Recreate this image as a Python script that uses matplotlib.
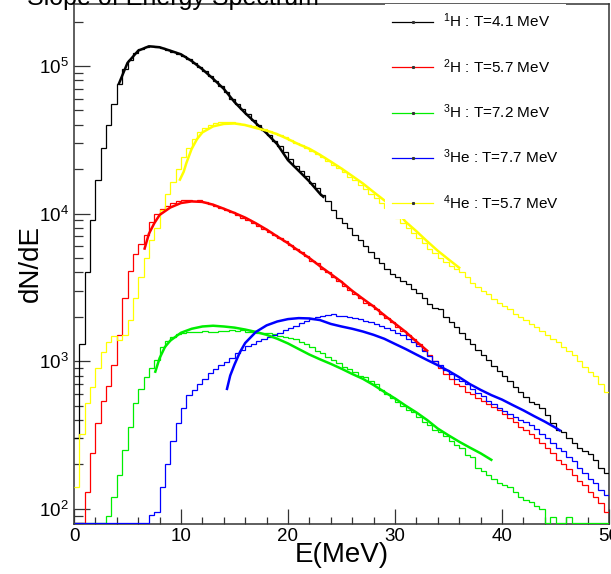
import numpy as np
import matplotlib.pyplot as plt
from matplotlib.ticker import MultipleLocator
from matplotlib.lines import Line2D

plt.rcParams['font.family'] = ['Liberation Sans', 'DejaVu Sans']
plt.rcParams['mathtext.fontset'] = 'custom'
plt.rcParams['mathtext.rm'] = 'Liberation Sans'
plt.rcParams['mathtext.it'] = 'Liberation Sans:italic'
plt.rcParams['mathtext.bf'] = 'Liberation Sans:bold'

# histogram binning: 0.5 MeV bins from 0 to 50 MeV
bin_edges = np.linspace(0, 50, 101)

# dN/dE histograms (one value per bin)
h1_counts = [300, 1300, 4000, 9000, 17000, 28000, 40000, 55000, 75000, 95000,
             110000, 122000, 130000, 135000, 137000, 135000, 132000, 129000, 124000, 120000,
             117000, 111000, 105000, 98000, 92000, 85000, 79000, 73000, 67000, 60000,
             55000, 51000, 47000, 43000, 40000, 37000, 34000, 31000, 28500, 26000,
             23500, 21000, 19500, 18000, 16200, 14800, 13300, 12200, 10500, 9400,
             8700, 8000, 7200, 6600, 6000, 5500, 5000, 4600, 4200, 3900,
             3700, 3500, 3350, 3100, 2900, 2700, 2450, 2300, 2250, 2000,
             1850, 1700, 1550, 1420, 1300, 1200, 1100, 1020, 930, 860,
             800, 740, 670, 620, 570, 530, 510, 480, 430, 380,
             340, 330, 300, 280, 260, 245, 235, 215, 190, 175]

h2_counts = [0, 0, 130, 240, 380, 540, 680, 950, 1500, 2700,
             4100, 5300, 6200, 7200, 8800, 9900, 10700, 11300, 11800, 12100,
             12300, 12400, 12200, 12300, 12000, 11600, 11300, 10900, 10500, 10200,
             9800, 9400, 9100, 8600, 8300, 7900, 7500, 7200, 6800, 6500,
             6100, 5800, 5500, 5200, 4800, 4600, 4200, 4000, 3750, 3500,
             3250, 3050, 2850, 2700, 2500, 2400, 2250, 2100, 1950, 1850,
             1700, 1600, 1500, 1420, 1300, 1200, 1100, 1000, 900, 820,
             760, 700, 680, 620, 600, 560, 540, 510, 490, 470,
             440, 410, 390, 360, 340, 320, 300, 280, 260, 240,
             215, 200, 185, 170, 155, 145, 130, 120, 110, 95]

h3_counts = [0, 0, 0, 0, 0, 0, 90, 120, 170, 250,
             360, 520, 650, 780, 900, 1020, 1250, 1380, 1460, 1520,
             1560, 1570, 1590, 1580, 1600, 1570, 1590, 1610, 1600, 1630,
             1610, 1620, 1590, 1580, 1560, 1550, 1560, 1520, 1490, 1470,
             1440, 1420, 1360, 1300, 1240, 1180, 1130, 1070, 1020, 970,
             920, 880, 850, 800, 780, 740, 700, 640, 600, 560,
             530, 500, 470, 450, 420, 390, 370, 340, 330, 310,
             290, 270, 260, 230, 225, 190, 180, 170, 160, 150,
             145, 140, 130, 120, 115, 112, 105, 100, 0, 88,
             0, 0, 88, 0, 0, 0, 0, 0, 0, 0]

he3_counts = [0, 0, 0, 0, 0, 0, 0, 0, 0, 0,
              0, 0, 0, 0, 91, 96, 140, 200, 290, 380,
              480, 590, 640, 700, 760, 830, 880, 940, 990, 1060,
              1130, 1190, 1260, 1310, 1370, 1420, 1470, 1510, 1560, 1620,
              1680, 1740, 1810, 1860, 1920, 1980, 2030, 2060, 2080, 2040,
              2020, 2000, 1960, 1920, 1880, 1850, 1800, 1740, 1690, 1630,
              1560, 1500, 1420, 1340, 1260, 1180, 1090, 1010, 940, 870,
              820, 760, 740, 700, 650, 610, 580, 540, 510, 480,
              460, 440, 420, 400, 390, 370, 350, 320, 300, 280,
              260, 245, 225, 210, 190, 175, 160, 150, 135, 125]

he4_counts = [140, 320, 520, 670, 900, 1150, 1350, 1480, 1400, 1500,
              1900, 2700, 3700, 5000, 6600, 8000, 10600, 13500, 16500, 20000,
              24000, 28000, 32000, 35500, 38000, 40000, 41000, 42000, 42000, 41800,
              41200, 40500, 40000, 39000, 38200, 37200, 36200, 35200, 34000, 32800,
              31500, 30200, 29000, 27800, 26500, 25300, 24000, 22800, 21500, 20300,
              19000, 17800, 16800, 15600, 14600, 13600, 12700, 11800, 10900, 10100,
              9300, 8700, 8000, 7400, 6800, 6300, 5800, 5400, 5000, 4700,
              4400, 4200, 4000, 3700, 3400, 3200, 3000, 2850, 2650, 2500,
              2350, 2250, 2100, 2000, 1900, 1800, 1700, 1600, 1500, 1420,
              1350, 1250, 1180, 1100, 1000, 920, 850, 800, 700, 620]

# fitted slope curves (E in MeV, dN/dE)
h1_fit_e = [4.2, 5, 6, 7, 8, 9, 10, 11, 12, 13, 14, 15, 16, 17, 18, 19, 20, 21, 22, 23, 23.3]
h1_fit_v = [76000, 105000, 127000, 136000, 134000, 127000, 120000, 108000, 95000, 82000,
            70000, 57000, 48000, 41000, 35000, 29500, 23000, 19500, 16500, 13600, 13000]

h2_fit_e = [6.6, 7, 7.5, 8, 9, 10, 11, 12, 13, 14, 15, 16, 17, 18, 19, 20,
            21, 22, 23, 24, 25, 26, 27, 28, 29, 30, 31, 32, 33]
h2_fit_v = [5800, 7300, 8600, 9800, 11000, 11800, 12100, 12000, 11500, 10800, 10100, 9400, 8600, 7800, 7000, 6300,
            5600, 5000, 4400, 3900, 3450, 3000, 2650, 2350, 2050, 1800, 1580, 1360, 1180]

h3_fit_e = [7.6, 8, 8.5, 9, 10, 11, 12, 13, 14, 15, 16, 17, 18, 19, 20, 21, 22, 23,
            24, 25, 26, 27, 28, 29, 30, 31, 32, 33, 34, 35, 36, 37, 38, 39]
h3_fit_v = [850, 1050, 1250, 1380, 1560, 1660, 1720, 1740, 1720, 1690, 1640, 1580, 1510, 1420, 1320, 1210, 1110, 1030,
            960, 890, 820, 760, 690, 620, 560, 500, 450, 400, 350, 315, 285, 260, 238, 215]

he3_fit_e = [14.3, 14.6, 15, 15.5, 16, 17, 18, 19, 20, 21, 22, 23, 24, 25, 26, 27, 28, 29,
             30, 31, 32, 33, 34, 35, 36, 37, 38, 39, 40, 41, 42, 43, 44, 45, 45.4]
he3_fit_v = [650, 800, 950, 1150, 1330, 1580, 1750, 1860, 1930, 1960, 1950, 1900, 1790, 1720, 1660, 1590, 1510, 1420,
             1310, 1210, 1110, 1020, 940, 860, 780, 700, 640, 590, 550, 505, 465, 425, 390, 355, 340]

he4_fit_e = [9.9, 10.25, 10.5, 11, 11.5, 12, 13, 14, 15, 16, 17, 18, 19, 20, 21, 22, 23,
             24, 25, 26, 27, 28, 29, 30, 31, 32, 33, 34, 35, 36]
he4_fit_v = [17000, 19200, 22000, 27500, 32000, 35500, 39000, 40500, 40800, 39800, 38000, 36500, 34500, 32000, 29500, 27500, 25000,
             22500, 20200, 18000, 16000, 14000, 12300, 10700, 8800, 7600, 6500, 5600, 4900, 4300]

legend_labels = ['$^{1}$H : T=4.1 MeV', '$^{2}$H : T=5.7 MeV', '$^{3}$H : T=7.2 MeV',
                 '$^{3}$He : T=7.7 MeV', '$^{4}$He : T=5.7 MeV']

colors = ['black', 'red', '#00ee00', 'blue', 'yellow']
hist_list = [h1_counts, h2_counts, h3_counts, he3_counts, he4_counts]
fit_list = [(h1_fit_e, h1_fit_v), (h2_fit_e, h2_fit_v), (h3_fit_e, h3_fit_v),
            (he3_fit_e, he3_fit_v), (he4_fit_e, he4_fit_v)]

ymin, ymax = 79, 2.63e5

fig = plt.figure(figsize=(6.11, 5.74), dpi=100)
ax = fig.add_axes([74/611, 50/574, 535/611, 520/574])

for counts, col in zip(hist_list, colors):
    vals = np.clip(np.array(counts, dtype=float), ymin*1.02, None)  # empty bins sit on the axis
    ax.stairs(vals, bin_edges, color=col, lw=0.9, baseline=None, zorder=3)

for (fe, fv), col in zip(fit_list, colors):
    ax.plot(fe, fv, color=col, lw=1.8, zorder=4)

ax.set_yscale('log')
ax.set_xlim(0, 50)
ax.set_ylim(ymin, ymax)

ax.xaxis.set_major_locator(MultipleLocator(10))
ax.xaxis.set_minor_locator(MultipleLocator(2))
ax.tick_params(axis='x', which='major', direction='in', length=10.8, width=0.9, labelsize=13.5, pad=3)
ax.tick_params(axis='x', which='minor', direction='in', length=5, width=0.9)
ax.tick_params(axis='y', which='major', direction='in', length=11.5, width=0.9, labelsize=13.5, pad=4)
ax.tick_params(axis='y', which='minor', direction='in', length=6.5, width=0.9)
ax.tick_params(which='both', top=False, right=False, colors='#333333', labelcolor='black')
for sp in ax.spines.values():
    sp.set_linewidth(1.1)
    sp.set_color('#333333')

ax.set_xlabel('E(MeV)', fontsize=20)
ax.set_ylabel('dN/dE', fontsize=20)
ax.xaxis.set_label_coords(0.5, -0.035)
ax.yaxis.set_label_coords(-0.056, 0.5)

handles = [Line2D([], [], color=c, lw=0.9, marker='s', markersize=1.2,
                  markerfacecolor='#333333', markeredgecolor='#333333') for c in colors]
leg = ax.legend(handles, legend_labels, loc='upper left', bbox_to_anchor=(0.581, 1.0),
                borderaxespad=0, borderpad=0.5, fontsize=11, handlelength=2.68,
                handletextpad=0.6, labelspacing=1.75, numpoints=1,
                frameon=True, fancybox=False, framealpha=1, facecolor='white', edgecolor='none')
leg.set_zorder(5)

fig.text(27/611, 1 - 4.5/574, 'Slope of Energy Spectrum', fontsize=18, va='baseline', ha='left')

fig.savefig('out.png', dpi=100)
